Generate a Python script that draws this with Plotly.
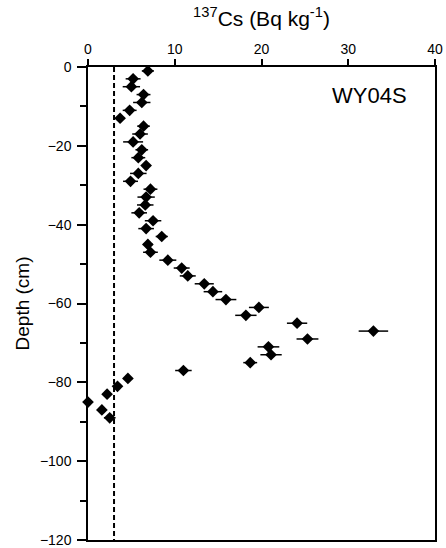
import plotly.graph_objects as go

# 137Cs profile, core WY04S
depth = [-1, -3, -5, -7, -9, -11, -13, -15, -17, -19, -21, -23, -25, -27, -29,
         -31, -33, -35, -37, -39, -41, -43, -45, -47, -49, -51, -53, -55, -57, -59,
         -61, -63, -65, -67, -69, -71, -73, -75, -77, -79, -81, -83, -85, -87, -89]
cs137 = [6.9, 5.2, 5.0, 6.4, 6.2, 4.8, 3.7, 6.4, 6.0, 5.2, 6.2, 5.8, 6.7, 5.8, 4.9,
         7.2, 6.7, 6.6, 5.9, 7.5, 6.7, 8.5, 6.9, 7.2, 9.2, 10.8, 11.5, 13.4, 14.4, 15.9,
         19.7, 18.2, 24.1, 32.9, 25.3, 20.8, 21.1, 18.7, 11.0, 4.6, 3.4, 2.2, 0.0, 1.6, 2.5]
cs_err = [0.7, 0.86, 1.0, 0.8, 1.0, 0.8, 0.5, 0.73, 0.9, 1.15, 0.73, 0.8, 0.5, 0.95, 0.86,
          0.8, 1.0, 0.95, 0.9, 0.95, 0.9, 0.7, 0.57, 0.85, 0.98, 0.92, 0.92, 1.1, 1.07, 1.2,
          1.15, 1.23, 1.17, 1.7, 1.26, 1.25, 1.23, 0.8, 0.95, 0.4, 0.3, 0.3, 0.3, 0.3, 0.67]
detection_limit = 3.0

fig = go.Figure()

fig.add_trace(go.Scatter(
    x=[detection_limit, detection_limit], y=[0, -120],
    mode='lines', line=dict(color='black', width=2, dash='5px,3px'),
    hoverinfo='skip'))

fig.add_trace(go.Scatter(
    x=cs137, y=depth, mode='markers', cliponaxis=False,
    marker=dict(symbol='diamond', size=9, color='black'),
    error_x=dict(type='data', array=cs_err, color='black', thickness=1.5, width=0)))

fig.add_annotation(x=0.924, y=-7.2, xref='paper', yref='y', text='WY04S',
                   showarrow=False, xanchor='right', yanchor='middle',
                   font=dict(size=22, color='black'))

fig.update_layout(
    width=446, height=548,
    margin=dict(l=88, r=11, t=67, b=8),
    paper_bgcolor='white', plot_bgcolor='white',
    showlegend=False,
    font=dict(family='Liberation Sans, Arial, sans-serif', color='black', size=14),
)
fig.update_xaxes(
    side='top', range=[0, 40], tickvals=[0, 10, 20, 30, 40],
    showgrid=False, zeroline=False, automargin=False,
    showline=True, linecolor='black', linewidth=1.5, mirror=True,
    ticks='outside', ticklen=6, tickwidth=1.5, tickcolor='black',
    title=dict(text='<sup>137</sup>Cs (Bq kg<sup>-1</sup>)', font=dict(size=21), standoff=8),
)
fig.update_yaxes(
    range=[-120, 0], tickvals=[0, -20, -40, -60, -80, -100, -120],
    showgrid=False, zeroline=False, automargin=False,
    showline=True, linecolor='black', linewidth=1.5, mirror=True,
    ticks='outside', ticklen=9, tickwidth=1.5, tickcolor='black', ticklabelstandoff=3,
    minor=dict(dtick=10, ticks='outside', ticklen=6, tickwidth=1.5, tickcolor='black'),
    title=dict(text='Depth (cm)', font=dict(size=19), standoff=5),
)

# page body has a default 8px margin; drop it so the figure sits at the window corner
fig.write_html("out.html", config={'displayModeBar': False},
               post_script="document.body.style.margin='0';")
